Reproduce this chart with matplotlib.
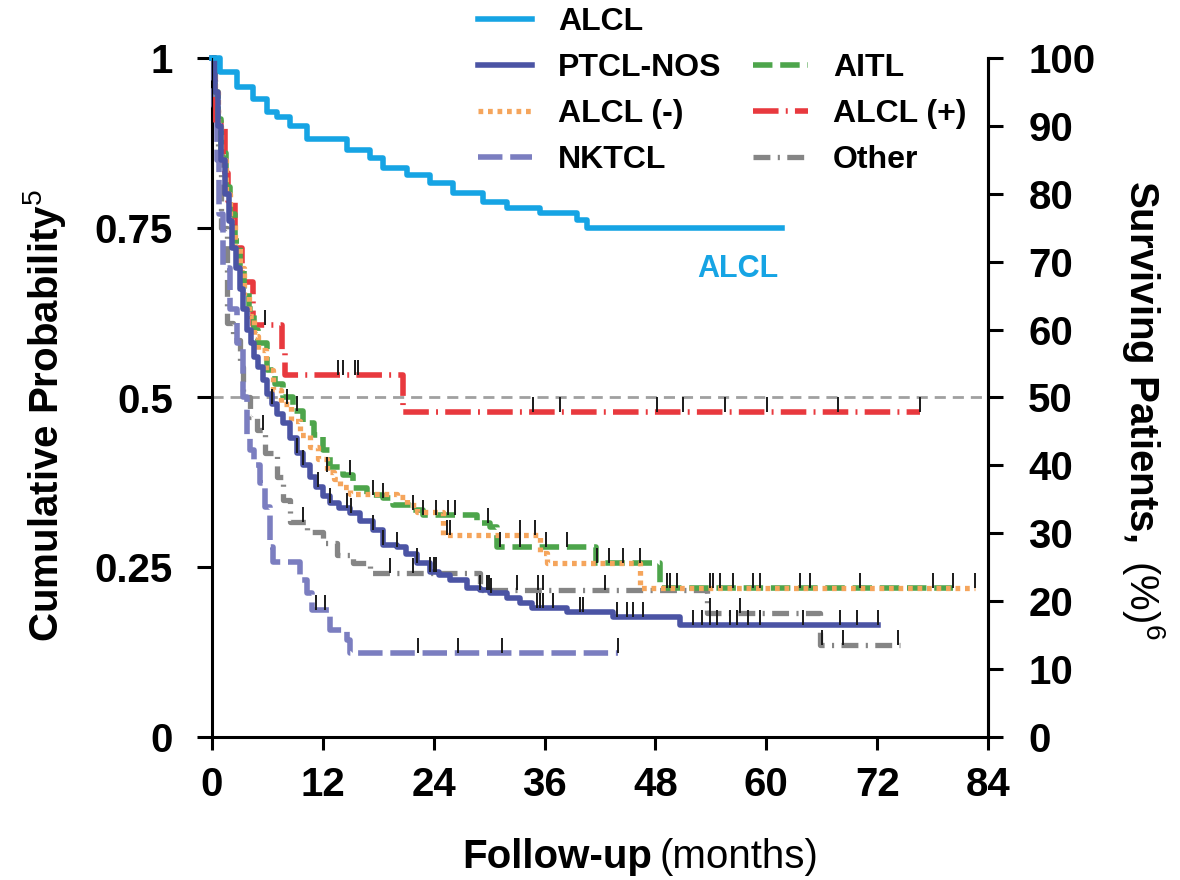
import numpy as np
import matplotlib
matplotlib.use("Agg")
import matplotlib.pyplot as plt
from matplotlib.lines import Line2D

plt.rcParams['font.family'] = ['Liberation Sans', 'DejaVu Sans']
plt.rcParams['mathtext.fontset'] = 'custom'
plt.rcParams['mathtext.rm'] = 'Liberation Sans'
plt.rcParams['mathtext.bf'] = 'Liberation Sans:bold'
plt.rcParams['mathtext.it'] = 'Liberation Sans:italic'

# Kaplan-Meier step curves: month of each step and survival after it
alcl_t = [0, 0.9, 2.7, 4.4, 5.9, 7.0, 8.4, 10.3, 14.6, 17.1, 18.5, 21.1, 23.6,
          26.1, 29.3, 31.9, 35.5, 39.5, 40.6, 61.7]
alcl_s = [1.0, 0.979, 0.957, 0.94, 0.92, 0.913, 0.90, 0.88, 0.865, 0.853, 0.838,
          0.828, 0.816, 0.801, 0.788, 0.779, 0.772, 0.762, 0.75, 0.75]

ptcl_t = [0, 0.3, 0.6, 1.0, 1.4, 1.8, 2.2, 2.6, 3.0, 3.4, 3.8, 4.2, 4.6, 5.0, 5.5,
          6.0, 6.5, 7.0, 7.7, 8.4, 9.2, 9.9, 10.6, 11.3, 12.0, 12.8, 13.8, 14.9,
          16.0, 17.4, 18.5, 20.0, 21.0, 22.2, 23.6, 24.6, 25.8, 27.6, 29.0, 30.1,
          31.9, 33.3, 34.6, 38.4, 43.4, 50.7, 72.1]
ptcl_s = [1.0, 0.95, 0.90, 0.85, 0.80, 0.76, 0.72, 0.69, 0.66, 0.63, 0.60, 0.58,
          0.56, 0.545, 0.526, 0.505, 0.49, 0.475, 0.462, 0.44, 0.418, 0.40, 0.383,
          0.368, 0.355, 0.345, 0.337, 0.33, 0.318, 0.305, 0.283, 0.28, 0.27, 0.256,
          0.243, 0.238, 0.231, 0.219, 0.216, 0.212, 0.205, 0.197, 0.19, 0.184,
          0.177, 0.165, 0.165]
ptcl_cens = [6.5, 9.2, 9.9, 11.5, 12.8, 14.6, 15.0, 17.4, 18.5, 20.0, 22.2, 23.6,
             24.0, 24.3, 29.8, 30.2, 35.2, 35.5, 35.8, 36.9, 39.8, 40.2, 43.8, 44.9,
             45.6, 46.7, 52.1, 53.0, 53.9, 54.7, 56.1, 56.8, 58.0, 59.3, 64.0, 68.0,
             69.8, 72.1]

aitl_t = [0, 0.3, 0.6, 1.0, 1.5, 2.0, 2.5, 3.0, 3.5, 4.0, 4.5, 5.0, 5.9, 6.8, 7.7,
          8.8, 9.9, 11.0, 12.0, 12.8, 14.2, 15.3, 16.8, 18.5, 19.6, 21.8, 22.8,
          28.7, 30.1, 30.8, 41.6, 48.5, 80.2]
aitl_s = [1.0, 0.95, 0.91, 0.86, 0.81, 0.77, 0.73, 0.69, 0.66, 0.63, 0.60, 0.58,
          0.54, 0.52, 0.50, 0.48, 0.462, 0.445, 0.423, 0.398, 0.386, 0.367, 0.356,
          0.352, 0.342, 0.334, 0.327, 0.315, 0.31, 0.28, 0.256, 0.219, 0.219]
aitl_cens = [9.2, 14.9, 17.4, 18.5, 21.8, 22.8, 24.3, 25.6, 26.3, 29.9, 31.2, 33.3,
             36.2, 38.4, 41.7, 43.0, 44.5, 46.3, 49.3, 49.6, 50.3, 53.9, 55.0, 58.6,
             63.6, 70.1, 78.0, 80.2]

neg_t = [0, 0.3, 0.6, 1.0, 1.5, 2.0, 2.5, 3.0, 3.5, 4.0, 4.5, 5.0, 5.8, 6.6, 7.5,
         8.5, 9.5, 10.6, 11.5, 12.4, 13.2, 13.9, 14.9, 20.0, 21.1, 22.2, 25.0, 35.5,
         36.3, 46.3, 82.6]
neg_s = [1.0, 0.95, 0.90, 0.85, 0.80, 0.76, 0.72, 0.69, 0.65, 0.62, 0.59, 0.57,
         0.54, 0.511, 0.49, 0.465, 0.445, 0.427, 0.41, 0.39, 0.38, 0.368, 0.358,
         0.354, 0.342, 0.331, 0.297, 0.271, 0.256, 0.219, 0.219]
neg_cens = [8.1, 12.4, 25.4, 25.8, 33.3, 35.0, 54.2, 56.4, 59.3, 64.7, 82.6]

pos_t = [0, 0.3, 1.4, 1.7, 2.5, 3.3, 4.4, 7.6, 7.9, 20.7, 76.6]
pos_s = [1.0, 0.904, 0.83, 0.79, 0.72, 0.67, 0.607, 0.566, 0.533, 0.479, 0.479]
pos_cens = [5.7, 13.6, 14.2, 15.5, 15.8, 34.7, 37.7, 48.2, 51.0, 55.5, 60.1, 67.8,
            76.6]

nk_t = [0, 0.2, 0.5, 0.8, 1.2, 1.9, 2.7, 3.4, 3.8, 4.1, 4.6, 5.2, 5.7, 6.3, 6.6,
        9.5, 10.3, 10.8, 12.8, 14.6, 14.9, 44.0]
nk_s = [1.0, 0.93, 0.85, 0.77, 0.69, 0.63, 0.58, 0.50, 0.44, 0.423, 0.40, 0.374,
        0.339, 0.28, 0.258, 0.231, 0.212, 0.187, 0.158, 0.143, 0.124, 0.124]
nk_cens = [11.3, 12.2, 22.3, 26.6, 31.4, 44.0]

oth_t = [0, 0.3, 0.6, 1.0, 1.6, 2.3, 3.0, 3.4, 4.1, 4.9, 5.7, 7.0, 7.7, 8.4, 10.3,
         12.0, 13.5, 15.3, 17.1, 29.0, 53.6, 65.8, 74.5]
oth_s = [1.0, 0.93, 0.85, 0.75, 0.61, 0.585, 0.545, 0.50, 0.471, 0.452, 0.418,
         0.383, 0.349, 0.317, 0.302, 0.286, 0.268, 0.256, 0.241, 0.216, 0.183,
         0.135, 0.135]
oth_cens = [5.5, 9.9, 19.3, 21.8, 29.0, 30.0, 33.0, 35.3, 35.8, 42.5, 53.9, 57.2,
            66.0, 68.3, 74.3]

x_ticks = [0, 12, 24, 36, 48, 60, 72, 84]
y_ticks = [0, 0.25, 0.5, 0.75, 1]
y_labels = ['0', '0.25', '0.5', '0.75', '1']
pct_ticks = list(range(0, 101, 10))

fig = plt.figure(figsize=(11.8, 8.8), dpi=100)
ax = fig.add_axes([212 / 1180, 1 - 737 / 880, 776 / 1180, 679 / 880])

ax.axhline(0.5, color='#a0a0a0', lw=2, ls=(0, (4, 2.5)), zorder=1)


def km(t, s, cens, color, lw, dashes, label, z=3):
    ls = '-' if dashes is None else (0, dashes)
    line, = ax.step(t, s, where='post', color=color, lw=lw, ls=ls, label=label,
                    clip_on=False, zorder=z)
    if cens:
        idx = np.searchsorted(t, cens, side='right') - 1
        ax.plot(cens, np.asarray(s)[idx], ls='none', marker=2, ms=11, mew=1.4,
                color='#1a1a1a', clip_on=False, zorder=z + 0.5)
    return line


h_oth = km(oth_t, oth_s, oth_cens, '#858585', 3.8, (3.2, 1.4, 0.4, 1.4), 'Other')
h_nk = km(nk_t, nk_s, nk_cens, '#7b7ec0', 4, (4.4, 1.4), 'NKTCL')
h_pos = km(pos_t, pos_s, pos_cens, '#e8393e', 4, (4.6, 1.3, 0.35, 1.3), 'ALCL (+)')
h_aitl = km(aitl_t, aitl_s, aitl_cens, '#4da54b', 4, (3.5, 1.4), 'AITL')
h_neg = km(neg_t, neg_s, neg_cens, '#f5a55c', 3.8, (0.9, 0.9), 'ALCL (-)')
h_ptcl = km(ptcl_t, ptcl_s, ptcl_cens, '#4b54a4', 4, None, 'PTCL-NOS')
h_alcl = km(alcl_t, alcl_s, None, '#16a4e4', 4, None, 'ALCL', z=4)

ax.text(56.9, 0.689, 'ALCL', color='#16a4e4', fontsize=22, fontweight='bold',
        ha='center', va='center')

ax.set_xlim(0, 84)
ax.set_ylim(0, 1)
ax.set_xticks(x_ticks)
ax.set_yticks(y_ticks)
ax.set_yticklabels(y_labels)
ax.tick_params(axis='both', direction='out', width=2.2, colors='black', labelsize=29)
ax.tick_params(axis='x', length=9, pad=12)
ax.tick_params(axis='y', length=11, pad=17)
for lab in ax.get_xticklabels() + ax.get_yticklabels():
    lab.set_fontweight('bold')
ax.spines['top'].set_visible(False)
for sp in ['left', 'bottom', 'right']:
    ax.spines[sp].set_linewidth(2.2)

ax2 = ax.twinx()
ax2.set_ylim(0, 100)
ax2.set_yticks(pct_ticks)
ax2.tick_params(axis='y', direction='out', length=11, width=2.2, pad=18, labelsize=29)
for lab in ax2.get_yticklabels():
    lab.set_fontweight('bold')
ax2.spines['top'].set_visible(False)
ax2.spines['right'].set_linewidth(2.2)

# axis titles
fig.text(45 / 1180, 1 - 415 / 880, r'$\mathbf{Cumulative\ Probability}^{\mathregular{5}}$',
         rotation=90, ha='center', va='center', fontsize=29)
fig.text(1143 / 1180, 1 - 410 / 880, r'$\mathbf{Surviving\ Patients,}$ (%)$^{6}$',
         rotation=-90, ha='center', va='center', fontsize=29)
fig.text(652 / 1180, 1 - 857 / 880, 'Follow-up', fontsize=29, fontweight='bold',
         ha='right', va='center')
fig.text(660 / 1180, 1 - 857 / 880, '(months)', fontsize=29, ha='left', va='center')

blank = Line2D([], [], color='none', label=' ')
handles = [h_alcl, h_ptcl, h_neg, h_nk, blank, h_aitl, h_pos, h_oth]
fig.legend(handles=handles, ncol=2, loc='upper left',
           bbox_to_anchor=(478 / 1180, 1 - 7 / 880),
           frameon=False, prop={'weight': 'bold', 'size': 23}, handlelength=1.7,
           handletextpad=0.8, columnspacing=1.0, labelspacing=0.5, borderpad=0,
           borderaxespad=0)

fig.savefig('out.png', dpi=100)
